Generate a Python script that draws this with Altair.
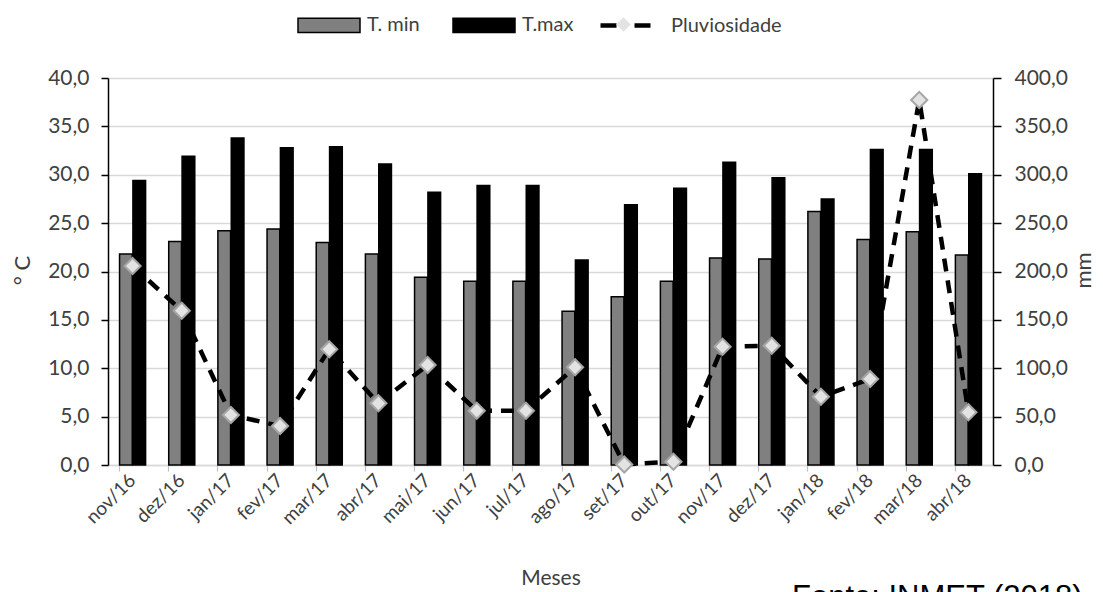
import altair as alt
import pandas as pd

meses = ["nov/16", "dez/16", "jan/17", "fev/17", "mar/17", "abr/17", "mai/17", "jun/17",
         "jul/17", "ago/17", "set/17", "out/17", "nov/17", "dez/17", "jan/18", "fev/18",
         "mar/18", "abr/18"]
tmin = [21.8, 23.1, 24.2, 24.4, 23.0, 21.8, 19.4, 19.0, 19.0, 15.9, 17.4, 19.0, 21.4, 21.3,
        26.2, 23.3, 24.1, 21.7]
tmax = [29.4, 31.9, 33.8, 32.8, 32.9, 31.1, 28.2, 28.9, 28.9, 21.2, 26.9, 28.6, 31.3, 29.7,
        27.5, 32.6, 32.6, 30.1]
pluv = [205.7, 159.5, 51.7, 40.3, 119.6, 63.8, 103.4, 56.1, 56.1, 101.0, 0.5, 3.4, 122.3,
        123.3, 70.6, 88.9, 377.3, 54.5]
series = ["T. min", "T.max"]
serie_pluv = "Pluviosidade"
serie_pt = "marcador"
fonte = "Fonte: INMET (2018)"

rows = []
for m, a, b in zip(meses, tmin, tmax):
    rows.append({"mes": m, "serie": series[0], "valor": a})
    rows.append({"mes": m, "serie": series[1], "valor": b})
bars_df = pd.DataFrame(rows)
pl_df = pd.DataFrame({"mes": meses, "pluv": pluv, "s_line": serie_pluv, "s_pt": serie_pt})

FONT = "Lato"
TXT = "#404040"
W, H = 885, 387

x_enc = alt.X(
    "mes:N", sort=meses,
    scale=alt.Scale(paddingInner=0.47, paddingOuter=0.235),
    axis=alt.Axis(
        title="Meses", bandPosition=0,
        labelAngle=-45, labelAlign="right", labelBaseline="middle",
        labelFontSize=19, labelPadding=6,
        domainColor="#d9d9d9", domainWidth=1.5, tickColor="#bfbfbf", tickWidth=1.2, tickSize=6,
        titleFontSize=21, titleX=W / 2, titleY=113, titleAlign="center", titleBaseline="middle",
    ),
)

bars = alt.Chart(bars_df).mark_bar(stroke="black", strokeWidth=1.5).encode(
    x=x_enc,
    xOffset=alt.XOffset("serie:N", sort=series, scale=alt.Scale(paddingInner=0.05)),
    y=alt.Y(
        "valor:Q", scale=alt.Scale(domain=[0, 40], nice=False),
        axis=alt.Axis(
            title="° C", values=list(range(0, 41, 5)),
            labelExpr="replace(format(datum.value, '.1f'), '.', ',')",
            labelFontSize=21, labelPadding=12,
            domainColor="black", domainWidth=1.5, tickColor="black", tickWidth=1.5, tickSize=7,
            grid=True, gridColor="#d9d9d9", gridWidth=1.5,
            titleFontSize=22, titleAngle=270, titleX=-86, titleY=192,
            titleAlign="center", titleBaseline="middle",
        ),
    ),
    color=alt.Color(
        "serie:N", sort=series,
        scale=alt.Scale(domain=series, range=["#808080", "#000000"]),
        legend=alt.Legend(
            orient="none", legendX=189, legendY=-85, direction="horizontal", title=None,
            symbolType="M-1,-0.23H1V0.23H-1Z", symbolSize=3844,
            symbolStrokeColor="black", symbolStrokeWidth=1.5,
            labelFont=FONT, labelFontSize=20, labelColor=TXT, labelOffset=6,
            columnPadding=30, padding=0,
        ),
    ),
)

y2 = alt.Y(
    "pluv:Q", scale=alt.Scale(domain=[0, 400], nice=False),
    axis=alt.Axis(
        orient="right", title="mm", values=list(range(0, 401, 50)),
        labelExpr="replace(format(datum.value, '.1f'), '.', ',')",
        labelFontSize=21, labelPadding=13,
        domainColor="black", domainWidth=1.5, tickColor="black", tickWidth=1.5, tickSize=8,
        grid=False,
        titleFontSize=22, titleAngle=270, titleX=90, titleY=192,
        titleAlign="center", titleBaseline="middle",
    ),
)

line = alt.Chart(pl_df).mark_line(strokeWidth=4.5, strokeDash=[13, 9]).encode(
    x=x_enc,
    y=y2,
    stroke=alt.Stroke(
        "s_line:N", scale=alt.Scale(domain=[serie_pluv], range=["black"]),
        legend=alt.Legend(
            orient="none", legendX=490, legendY=-80, title=None,
            symbolType="M-1,0H-0.36M0.36,0H1", symbolSize=2500, symbolStrokeWidth=4.5,
            symbolDash=[400, 0],
            labelFont=FONT, labelFontSize=20, labelColor=TXT, labelOffset=18, padding=0,
        ),
    ),
)

points = alt.Chart(pl_df).mark_point(
    shape="diamond", filled=True, fill="#e3e3e3", stroke="#a6a6a6", strokeWidth=2, size=260, opacity=1
).encode(
    x=x_enc,
    y=y2,
    shape=alt.Shape(
        "s_pt:N", scale=alt.Scale(domain=[serie_pt], range=["diamond"]),
        legend=alt.Legend(
            orient="none", legendX=507, legendY=-62, title=None,
            symbolSize=210, symbolFillColor="#e3e3e3", symbolStrokeColor="#a6a6a6",
            symbolStrokeWidth=2, labelExpr="''", padding=0,
        ),
    ),
)

note = alt.Chart(pd.DataFrame({"t": [fonte]})).mark_text(
    align="left", baseline="alphabetic", font="Liberation Sans", fontSize=31, color="black"
).encode(x=alt.value(684), y=alt.value(529), text="t:N")

right = alt.layer(line, points)
chart = alt.layer(bars, right, note).resolve_scale(y="independent").properties(
    width=W, height=H,
    autosize=alt.AutoSizeParams(type="none"),
    padding={"left": 108, "top": 78, "right": 110, "bottom": 127},
).configure_axis(
    labelFont=FONT, titleFont=FONT, labelColor=TXT, titleColor=TXT, titleFontWeight="normal"
).configure_view(stroke=None).configure_legend(labelFont=FONT)

chart.save("out.html", embed_options={"renderer": "svg", "actions": False})
